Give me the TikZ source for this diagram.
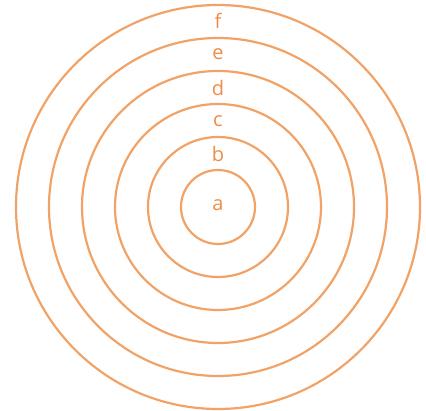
\documentclass[tikz,border=0pt]{standalone}
\usepackage{fontspec}
\setmainfont{Open Sans}
\usepackage{tikz}
\definecolor{ringorange}{RGB}{241,163,103}
\definecolor{labelorange}{RGB}{238,140,70}

\begin{document}
\begin{tikzpicture}[
    x=1pt, y=-1pt,
    ring/.style={draw=ringorange, line width=2.2pt},
    ringlabel/.style={text=labelorange, font=\fontsize{20}{24}\selectfont, inner sep=0pt}
]
\useasboundingbox (0,0) rectangle (426,411);
\coordinate (centre) at (218,207);

% Rings
\draw[ring] (centre) circle[radius=37];
\draw[ring] (centre) circle[radius=70];
\draw[ring] (centre) circle[radius=103];
\draw[ring] (centre) circle[radius=136];
\draw[ring] (centre) circle[radius=169];
\draw[ring] (centre) circle[radius=202];

% Labels
\node[ringlabel] (la) at (218,205) {a};
\node[ringlabel] (lb) at (218,154) {b};
\node[ringlabel] (lc) at (218,121) {c};
\node[ringlabel] (ld) at (218,88) {d};
\node[ringlabel] (le) at (218,54) {e};
\node[ringlabel] (lf) at (218,21) {f};

\end{tikzpicture}
\end{document}
